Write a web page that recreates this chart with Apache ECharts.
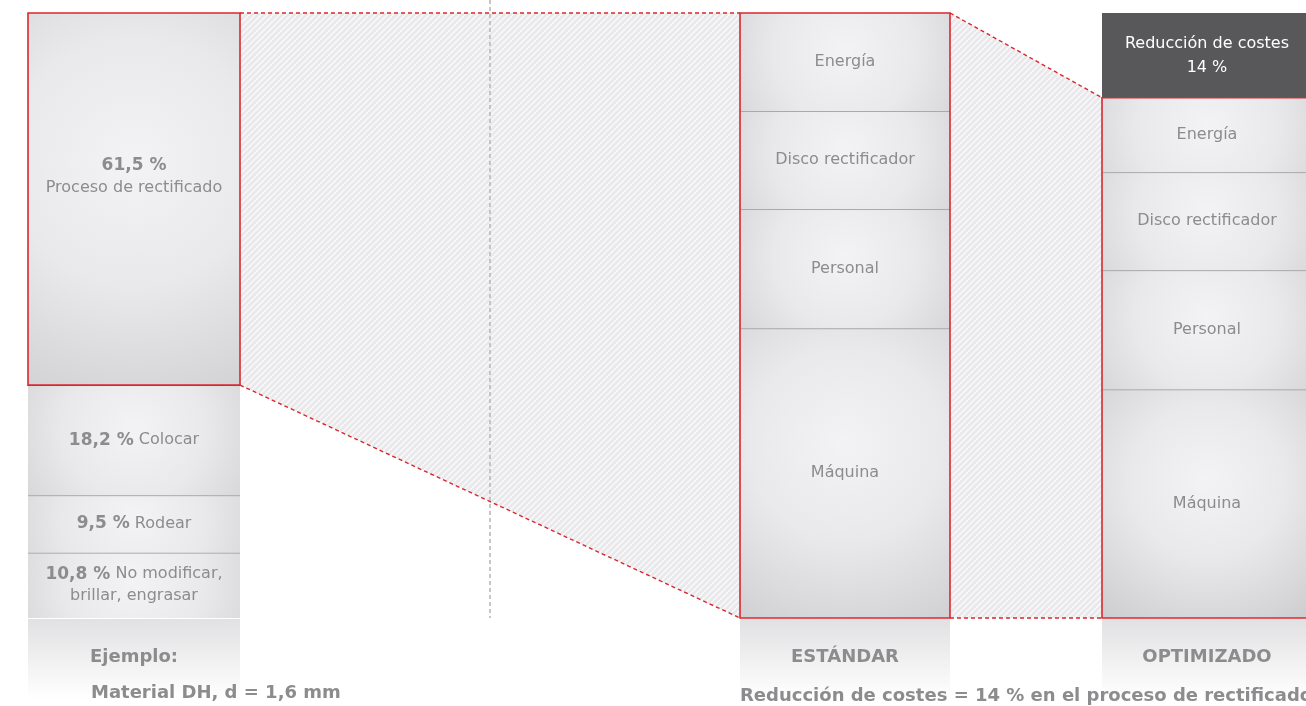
<!DOCTYPE html>
<html><head><meta charset="utf-8">
<script src="https://cdn.jsdelivr.net/npm/echarts@6/dist/echarts.min.js"></script>
<style>html,body{margin:0;padding:0;background:#fff}#c{width:1306px;height:706px}</style>
</head><body><div id="c"></div>
<script>
// ---------- data ----------
const columnNames = ['Ejemplo:', 'ESTÁNDAR', 'OPTIMIZADO'];
const exampleCats = ['Proceso de rectificado', 'Colocar', 'Rodear', 'No modificar,\nbrillar, engrasar'];
const exampleVals = [61.5, 18.2, 9.5, 10.8];
const standardCats = ['Energía', 'Disco rectificador', 'Personal', 'Máquina'];
const standardVals = [16.2, 16.2, 19.7, 47.9];
const optimizedCats = ['Reducción de costes', 'Energía', 'Disco rectificador', 'Personal', 'Máquina'];
const optimizedVals = [14, 12.3, 16.2, 19.7, 37.8];
const exampleNote = 'Material DH, d = 1,6 mm';
const resultNote = 'Reducción de costes = 14 % en el proceso de rectificado';

// ---------- layout / style ----------
const COL_X = [28, 740, 1102];
const COL_W = [212, 210, 210];
const FONT = '"DejaVu Sans", Verdana, sans-serif';
const GRAY = '#8c8c8e';
const RED = '#d7282f';

const colCats = [exampleCats, standardCats, optimizedCats];
const colVals = [exampleVals, standardVals, optimizedVals];
const sum = a => a.reduce((s, v) => s + v, 0);

const segData = [];
colVals.forEach((vals, c) => {
  let acc = 0;
  vals.forEach((v, k) => { segData.push([c, acc, acc + v, k]); acc += v; });
});
// red frames: [column, start, end]
const frames = [
  [0, 0, exampleVals[0]],
  [1, 0, sum(standardVals)],
  [2, optimizedVals[0], sum(optimizedVals)]
];
const connectors = [[0, 1], [1, 2]];

const fmt = v => (Number.isInteger(v) ? String(v) : v.toFixed(1).replace('.', ',')) + ' %';

function labelFor(c, k) {
  const name = colCats[c][k], v = colVals[c][k];
  if (c === 0) {
    if (k === 0) return '{b|' + fmt(v) + '}\n' + name;
    return '{b|' + fmt(v) + '} ' + name;
  }
  if (c === 2 && k === 0) return name + '\n' + fmt(v);
  return name;
}

function makeHatch() {
  const s = 6;
  const cv = document.createElement('canvas'); cv.width = s; cv.height = s;
  const g = cv.getContext('2d');
  g.fillStyle = '#e9e9eb'; g.fillRect(0, 0, s, s);
  g.strokeStyle = '#fbfbfc'; g.lineWidth = 1.3;
  g.beginPath();
  g.moveTo(0, s); g.lineTo(s, 0);
  g.moveTo(-1, 1); g.lineTo(1, -1);
  g.moveTo(s - 1, s + 1); g.lineTo(s + 1, s - 1);
  g.stroke();
  return cv;
}
const hatch = makeHatch();

function renderConnector(params, api) {
  const a = frames[api.value(0)], b = frames[api.value(1)];
  const xa = COL_X[a[0]] + COL_W[a[0]], xb = COL_X[b[0]];
  const p1 = api.coord([xa, a[1]]), p2 = api.coord([xb, b[1]]);
  const p3 = api.coord([xb, b[2]]), p4 = api.coord([xa, a[2]]);
  const dash = { stroke: RED, lineWidth: 1.4, lineDash: [4, 3] };
  const children = [
    { type: 'polygon', shape: { points: [p1, p2, p3, p4] }, style: { fill: { image: hatch, repeat: 'repeat' } } }
  ];
  if (params.dataIndex === 0) {
    const xm = (p1[0] + p2[0]) / 2;
    children.push({ type: 'line', shape: { x1: xm, y1: 0, x2: xm, y2: api.coord([xa, 100])[1] },
      style: { stroke: '#b9b9bb', lineWidth: 1.6, lineDash: [4, 3] } });
  }
  children.push({ type: 'line', shape: { x1: p1[0], y1: p1[1], x2: p2[0], y2: p2[1] }, style: dash });
  children.push({ type: 'line', shape: { x1: p4[0], y1: p4[1], x2: p3[0], y2: p3[1] }, style: dash });
  return { type: 'group', children };
}

function renderSeg(params, api) {
  const c = api.value(0), s = api.value(1), e = api.value(2), k = api.value(3);
  const p0 = api.coord([COL_X[c], s]);
  const p1 = api.coord([COL_X[c] + COL_W[c], e]);
  const x = p0[0], y = p0[1], w = p1[0] - p0[0], h = p1[1] - p0[1];
  const dark = (c === 2 && k === 0);
  const children = [];
  if (dark) {
    children.push({ type: 'rect', shape: { x, y, width: w, height: h }, style: { fill: '#58585a' } });
  } else {
    const r = Math.max(w, h) * 0.75;
    children.push({ type: 'rect', shape: { x, y, width: w, height: h }, style: {
      fill: { type: 'radial', global: true, x: x + w / 2, y: y + h * 0.4, r: r, colorStops: [
        { offset: 0, color: '#f3f3f5' }, { offset: 0.45, color: '#e9e9eb' }, { offset: 1, color: '#cdcdd0' }] } } });
    if (k > 0 && !(c === 2 && k === 1)) {
      children.push({ type: 'line', shape: { x1: x, y1: y + 0.5, x2: x + w, y2: y + 0.5 }, style: { stroke: '#a9a9ab', lineWidth: 1 } });
    }
  }
  const ty = (c === 0 && k === 0) ? y + h * 0.44 : y + h / 2;
  children.push({ type: 'text', style: {
    text: labelFor(c, k), x: x + w / 2, y: ty, align: 'center', verticalAlign: 'middle',
    fill: dark ? '#ffffff' : GRAY, font: '16px ' + FONT, lineHeight: dark ? 24 : 22,
    rich: { b: { fontWeight: 'bold', fontSize: 17, fontFamily: FONT, fill: GRAY, lineHeight: 22 } }
  } });
  return { type: 'group', children };
}

function renderFrame(params, api) {
  const c = api.value(0);
  const p0 = api.coord([COL_X[c], api.value(1)]);
  const p1 = api.coord([COL_X[c] + COL_W[c], api.value(2)]);
  return { type: 'rect', shape: { x: p0[0], y: p0[1], width: p1[0] - p0[0], height: p1[1] - p0[1] },
    style: { fill: 'none', stroke: RED, lineWidth: 1.6 } };
}

function renderFooter(params, api) {
  const c = api.value(0);
  const p0 = api.coord([COL_X[c], 100]);
  const p1 = api.coord([COL_X[c] + COL_W[c], 100]);
  const x = p0[0], y = p0[1] + 1, w = p1[0] - p0[0];
  return { type: 'group', children: [
    { type: 'rect', shape: { x, y, width: w, height: 80 }, style: {
      fill: { type: 'linear', x: 0, y: 0, x2: 0, y2: 1, colorStops: [
        { offset: 0, color: '#e1e1e3' }, { offset: 1, color: '#ffffff' }] } } },
    { type: 'text', style: { text: columnNames[c], x: x + w / 2, y: y + 38, align: 'center', verticalAlign: 'middle',
      fill: GRAY, font: 'bold 18px ' + FONT } }
  ] };
}

const chart = echarts.init(document.getElementById('c'));
chart.setOption({
  animation: false,
  backgroundColor: '#ffffff',
  grid: { left: 0, right: 0, top: 13, bottom: 88 },
  xAxis: { type: 'value', min: 0, max: 1306, show: false },
  yAxis: { type: 'value', min: 0, max: 100, inverse: true, show: false },
  graphic: [
    { type: 'text', z: 100, left: 91, top: 684, style: { text: exampleNote, fill: GRAY, font: 'bold 18px ' + FONT } },
    { type: 'text', z: 100, left: 740, top: 687, style: { text: resultNote, fill: GRAY, font: 'bold 18px ' + FONT } }
  ],
  series: [
    { type: 'custom', z: 1, clip: false, data: connectors, renderItem: renderConnector, silent: true },
    { type: 'custom', z: 2, clip: false, data: [[0], [1], [2]], renderItem: renderFooter, silent: true },
    { type: 'custom', z: 3, clip: false, data: segData, renderItem: renderSeg, silent: true },
    { type: 'custom', z: 4, clip: false, data: frames, renderItem: renderFrame, silent: true }
  ]
});
</script>
</body></html>
